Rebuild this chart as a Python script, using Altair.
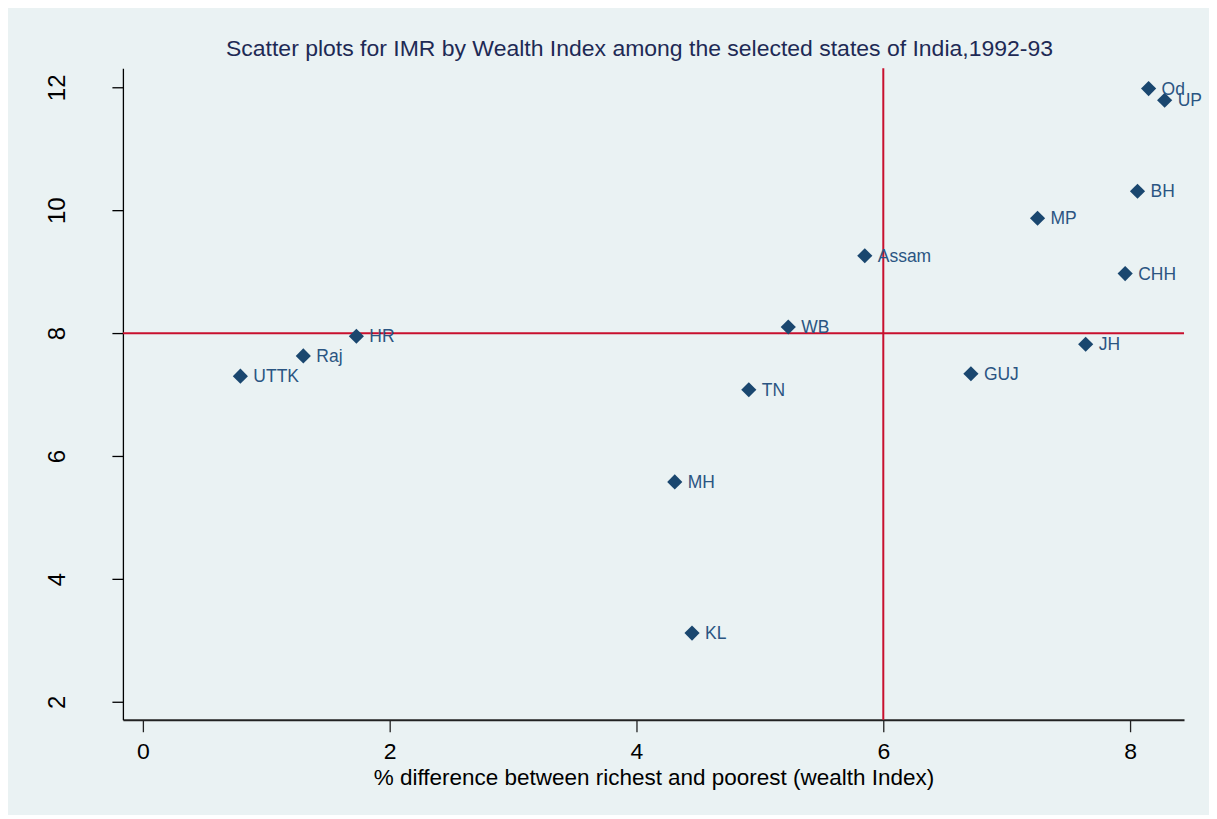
import altair as alt
import pandas as pd

states = ["Od", "UP", "BH", "MP", "CHH", "Assam", "WB", "HR", "Raj", "UTTK", "JH", "GUJ", "TN", "MH", "KL"]
wealth_diff = [8.15, 8.28, 8.06, 7.25, 7.96, 5.85, 5.23, 1.73, 1.30, 0.79, 7.64, 6.71, 4.91, 4.31, 4.45]
imr = [11.98, 11.79, 10.31, 9.87, 8.97, 9.26, 8.10, 7.95, 7.63, 7.30, 7.82, 7.34, 7.08, 5.58, 3.12]
x_ref = [6]
y_ref = [8]

df = pd.DataFrame({"state": states, "x": wealth_diff, "y": imr})

BG = "#EAF2F3"
NAVY = "#1A476F"
RED = "#C8102E"
FONT = "Liberation Sans"

xs = alt.Scale(domain=[-0.162, 8.437], nice=False, zero=False)
ys = alt.Scale(domain=[1.71, 12.31], nice=False, zero=False)

base = alt.Chart(df)

pts = base.mark_point(shape="diamond", filled=True, size=230, color=NAVY, opacity=1).encode(
    x=alt.X("x:Q", scale=xs,
            axis=alt.Axis(values=[0, 2, 4, 6, 8], format="d",
                          title="% difference between richest and poorest (wealth Index)",
                          grid=False, tickSize=12, labelPadding=9, labelFontSize=23, titleFontSize=22.5,
                          titleFontWeight="normal", titlePadding=3, labelFont=FONT, titleFont=FONT,
                          domainColor="#222222", tickColor="#222222", domainWidth=2.2, tickWidth=1.3,
                          labelColor="#000000", titleColor="#000000")),
    y=alt.Y("y:Q", scale=ys,
            axis=alt.Axis(values=[2, 4, 6, 8, 10, 12], format="d", title=None, grid=False, tickSize=11,
                          labelAngle=-90, labelAlign="center", labelBaseline="bottom", labelPadding=42,
                          labelFontSize=24, labelFont=FONT, domainColor="#000000", tickColor="#000000",
                          domainWidth=1.3, tickWidth=1.3, labelColor="#000000")),
)

labels = base.mark_text(align="left", baseline="middle", dx=13, dy=1, fontSize=17.5, color="#2A5582",
                        font=FONT).encode(
    x=alt.X("x:Q", scale=xs), y=alt.Y("y:Q", scale=ys), text="state:N")

vline = alt.Chart(pd.DataFrame({"x": x_ref})).mark_rule(color=RED, strokeWidth=2).encode(
    x=alt.X("x:Q", scale=xs))
hline = alt.Chart(pd.DataFrame({"y": y_ref})).mark_rule(color=RED, strokeWidth=2).encode(
    y=alt.Y("y:Q", scale=ys))

chart = alt.layer(vline, hline, pts, labels).properties(
    width=1062, height=652,
    background=BG,
    padding={"left": 115, "top": 60, "right": 25, "bottom": 95},
    autosize=alt.AutoSizeParams(type="none"),
    title=alt.TitleParams("Scatter plots for IMR by Wealth Index among the selected states of India,1992-93",
                          fontSize=23, font=FONT, fontWeight="normal", color="#1E2A55", offset=6, dx=-14),
).configure_view(stroke=None, fill=BG)

chart.save("out.html", embed_options={"renderer": "svg", "actions": False})
